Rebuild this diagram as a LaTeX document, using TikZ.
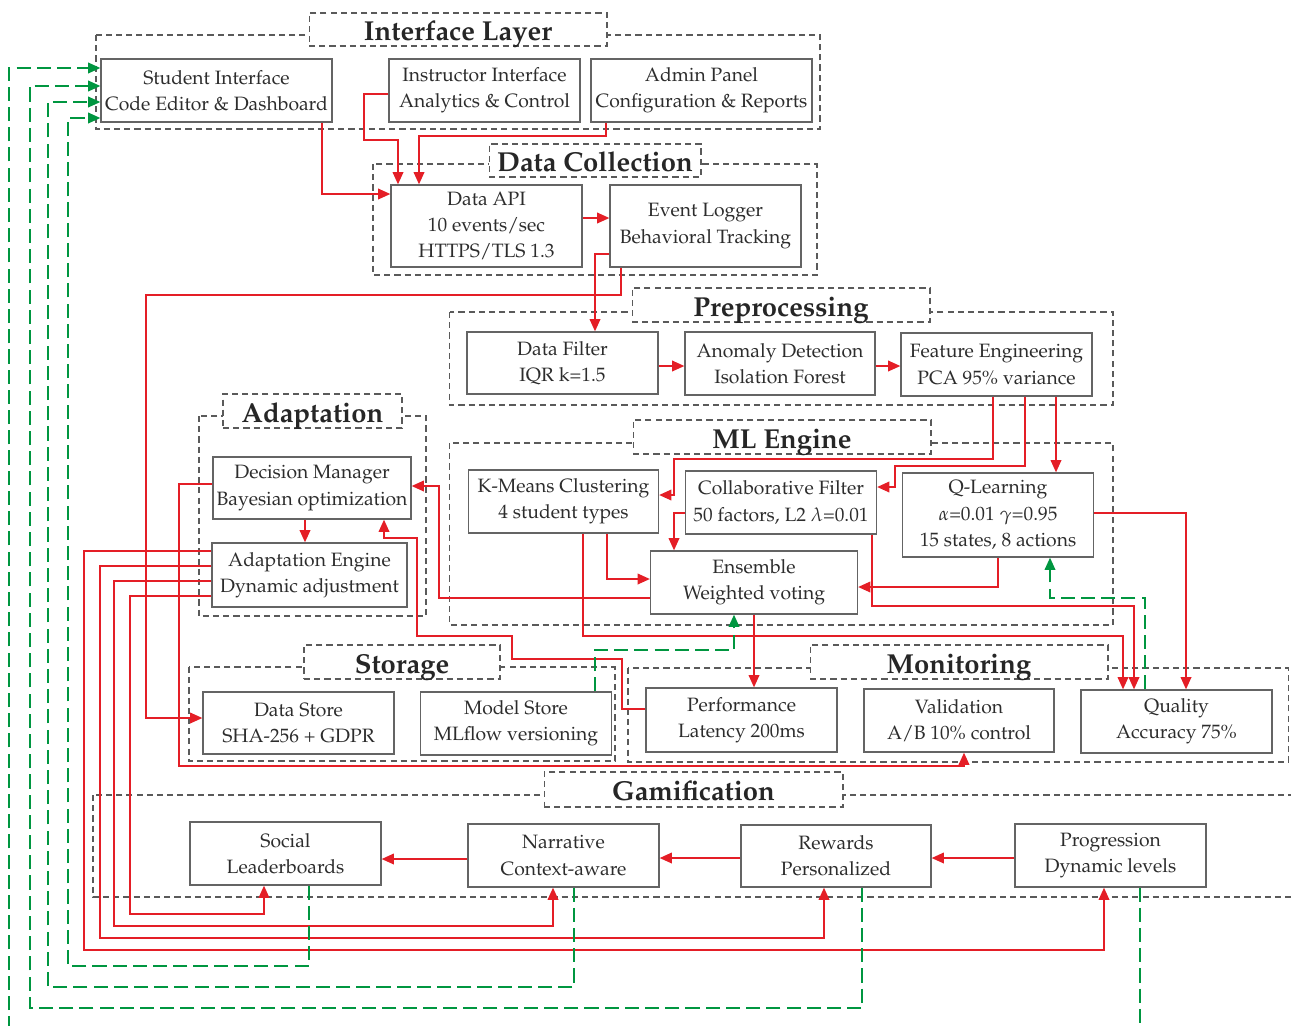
\documentclass[tikz,border=0pt]{standalone}
\usepackage[T1]{fontenc}
\usepackage{mathpazo}
\usetikzlibrary{arrows.meta}

\definecolor{flowred}{RGB}{228,30,38}
\definecolor{fbgreen}{RGB}{0,150,64}
\definecolor{boxgray}{RGB}{100,100,100}
\definecolor{dashgray}{RGB}{90,90,90}
\definecolor{txtgray}{RGB}{45,45,45}

\tikzset{
	blk/.style={draw=boxgray, line width=0.7pt, fill=white, text=txtgray, align=center,
		inner sep=0pt, font=\fontsize{11}{15}\selectfont},
	ttl/.style={draw=dashgray, line width=0.6pt, dash pattern=on 3.5pt off 2.3pt, fill=white,
		text=black!85, inner sep=0pt, text height=0.44cm, text depth=0cm,
		font=\fontsize{15.6}{18}\selectfont\bfseries},
	grp/.style={draw=dashgray, line width=0.6pt, dash pattern=on 3.5pt off 2.3pt},
	flow/.style={draw=flowred, line width=1.1pt, -{Triangle[length=7pt,width=6pt]}},
	fb/.style={draw=fbgreen, line width=1.1pt, dash pattern=on 8pt off 3.5pt,
		-{Triangle[length=7pt,width=6pt]}}
}

\begin{document}
\begin{tikzpicture}[x=0.02cm, y=-0.02cm]
	\useasboundingbox (0, 0) rectangle (1291, 1025);

	%% layer frames
	\draw[grp] (96, 35) rectangle (820, 129);
	\draw[grp] (373, 164) rectangle (817, 275);
	\draw[grp] (449.5, 312) rectangle (1113, 405);
	\draw[grp] (449.5, 443) rectangle (1113, 625);
	\draw[grp] (199, 416) rectangle (426, 616);
	\draw[grp] (189, 667) rectangle (615, 761);
	\draw[grp] (628, 668) rectangle (1288.5, 762);
	\draw[grp] (93, 795) rectangle (1310, 897);

	%% layer titles
	\node[ttl, minimum width=5.96cm, minimum height=0.66cm] (tint) at (458, 29.5) {Interface Layer};
	\node[ttl, minimum width=4.24cm, minimum height=0.66cm] (tcol) at (595, 160.5) {Data Collection};
	\node[ttl, minimum width=5.96cm, minimum height=0.68cm] (tpre) at (781, 305) {Preprocessing};
	\node[ttl, minimum width=5.96cm, minimum height=0.68cm] (tml) at (782, 437) {ML Engine};
	\node[ttl, minimum width=3.58cm, minimum height=0.68cm] (tada) at (312.5, 411) {Adaptation};
	\node[ttl, minimum width=3.92cm, minimum height=0.68cm] (tsto) at (402, 662) {Storage};
	\node[ttl, minimum width=5.96cm, minimum height=0.68cm] (tmon) at (959, 662) {Monitoring};
	\node[ttl, minimum width=5.98cm, minimum height=0.70cm] (tgam) at (693.5, 789.5) {Gamification};

	%% interface
	\node[blk, minimum width=4.62cm, minimum height=1.26cm] (student) at (216.5, 90.5) {Student Interface\\Code Editor \& Dashboard};
	\node[blk, minimum width=3.82cm, minimum height=1.26cm] (instructor) at (484.5, 90.5) {Instructor Interface\\Analytics \& Control};
	\node[blk, minimum width=4.42cm, minimum height=1.26cm] (admin) at (701.5, 90.5) {Admin Panel\\Configuration \& Reports};

	%% data collection
	\node[blk, minimum width=3.82cm, minimum height=1.64cm] (api) at (486.5, 226) {Data API\\10 events/sec\\HTTPS/TLS 1.3};
	\node[blk, minimum width=3.82cm, minimum height=1.64cm] (logger) at (705.5, 226) {Event Logger\\Behavioral Tracking};

	%% preprocessing
	\node[blk, minimum width=3.82cm, minimum height=1.24cm] (filter) at (562.5, 363) {Data Filter\\IQR k=1.5};
	\node[blk, minimum width=3.80cm, minimum height=1.26cm] (anomaly) at (780, 363.5) {Anomaly Detection\\Isolation Forest};
	\node[blk, minimum width=3.82cm, minimum height=1.26cm] (feature) at (996.5, 364.5) {Feature Engineering\\PCA 95\% variance};

	%% ml engine
	\node[blk, minimum width=3.80cm, minimum height=1.26cm] (kmeans) at (563.5, 501.5) {K-Means Clustering\\4 student types};
	\node[blk, minimum width=3.82cm, minimum height=1.26cm] (collab) at (781, 502.5) {Collaborative Filter\\50 factors, L2 $\lambda$=0.01};
	\node[blk, minimum width=3.82cm, minimum height=1.68cm] (qlearn) at (998, 515) {Q-Learning\\$\alpha$=0.01 $\gamma$=0.95\\15 states, 8 actions};
	\node[blk, minimum width=4.14cm, minimum height=1.26cm] (ensemble) at (754, 582.5) {Ensemble\\Weighted voting};

	%% adaptation
	\node[blk, minimum width=3.96cm, minimum height=1.24cm] (decision) at (312, 488) {Decision Manager\\Bayesian optimization};
	\node[blk, minimum width=3.90cm, minimum height=1.28cm] (adapteng) at (309.5, 575) {Adaptation Engine\\Dynamic adjustment};

	%% storage
	\node[blk, minimum width=3.82cm, minimum height=1.24cm] (datastore) at (298.5, 723) {Data Store\\SHA-256 + GDPR};
	\node[blk, minimum width=3.82cm, minimum height=1.26cm] (modelstore) at (516, 723.5) {Model Store\\MLflow versioning};

	%% monitoring
	\node[blk, minimum width=3.82cm, minimum height=1.28cm] (perf) at (741.5, 720) {Performance\\Latency 200ms};
	\node[blk, minimum width=3.80cm, minimum height=1.26cm] (valid) at (959, 720.5) {Validation\\A/B 10\% control};
	\node[blk, minimum width=3.82cm, minimum height=1.26cm] (quality) at (1176.5, 721.5) {Quality\\Accuracy 75\%};

	%% gamification
	\node[blk, minimum width=3.82cm, minimum height=1.26cm] (social) at (285.5, 853.5) {Social\\Leaderboards};
	\node[blk, minimum width=3.82cm, minimum height=1.26cm] (narrative) at (563.5, 855.5) {Narrative\\Context-aware};
	\node[blk, minimum width=3.80cm, minimum height=1.24cm] (rewards) at (836, 856) {Rewards\\Personalized};
	\node[blk, minimum width=3.82cm, minimum height=1.26cm] (progression) at (1110.5, 855.5) {Progression\\Dynamic levels};

	%% data flow
	\draw[flow] (student.south -| 322,0) |- (api.west |- 0,194);
	\draw[flow] (instructor.west |- 0,94) -| (364, 140) -| (api.north -| 398,0);
	\draw[flow] (admin.south -| 606,0) |- (419, 136) -- (api.north -| 419,0);
	\draw[flow] (api.east |- 0,218) -- (logger.west |- 0,218);
	\draw[flow] (logger.west |- 0,254) -| (filter.north -| 595,0);
	\draw[flow] (logger.south -| 621,0) |- (146, 295) |- (datastore.west |- 0,718);
	\draw[flow] (filter.east |- 0,366) -- (anomaly.west |- 0,366);
	\draw[flow] (anomaly.east |- 0,366) -- (feature.west |- 0,366);

	%% features into models
	\draw[flow] (feature.south -| 993,0) |- (674, 459) |- (kmeans.east |- 0,495);
	\draw[flow] (feature.south -| 1025,0) |- (895, 466) |- (collab.east |- 0,487);
	\draw[flow] (feature.south -| 1056,0) -- (qlearn.north -| 1056,0);

	%% model outputs
	\draw[flow] (kmeans.south -| 607,0) |- (ensemble.west |- 0,579);
	\draw[flow] (kmeans.south -| 583,0) |- (1123, 636) -- (quality.north -| 1123,0);
	\draw[flow] (collab.west |- 0,513) -| (ensemble.north -| 674,0);
	\draw[flow] (collab.south -| 872,0) |- (1134, 606) -- (quality.north -| 1134,0);
	\draw[flow] (qlearn.south) |- (ensemble.east |- 0,587);
	\draw[flow] (qlearn.east |- 0,513) -| (quality.north -| 1186,0);
	\draw[flow] (ensemble.south) -- (ensemble.south |- perf.north);
	\draw[flow] (ensemble.west |- 0,598) -| (439, 486) -- (decision.east |- 0,486);

	%% adaptation loop
	\draw[flow] (perf.west |- 0,709) -| (622, 659) -| (512, 636) -| (417, 538) -| (decision.south -| 384,0);
	\draw[flow] (decision.south -| 305,0) -- (adapteng.north -| 305,0);
	\draw[flow] (decision.west |- 0,484) -| (179, 766) -| (valid.south -| 964,0);

	%% adaptation into gamification
	\draw[flow] (adapteng.west |- 0,596) -| (130, 914) -| (social.south -| 264,0);
	\draw[flow] (adapteng.west |- 0,581) -| (114, 926) -| (narrative.south -| 553,0);
	\draw[flow] (adapteng.west |- 0,566) -| (100, 938) -| (rewards.south -| 824,0);
	\draw[flow] (adapteng.west |- 0,551) -| (84, 950) -| (progression.south -| 1104,0);
	\draw[flow] (narrative.west |- 0,859) -- (social.east |- 0,859);
	\draw[flow] (rewards.west |- 0,858) -- (narrative.east |- 0,858);
	\draw[flow] (progression.west |- 0,858) -- (rewards.east |- 0,858);

	%% feedback
	\draw[fb] (quality.north -| 1145,0) |- (1050, 598) -- (qlearn.south -| 1050,0);
	\draw[fb] (modelstore.north -| 595,0) |- (734, 650) -- (ensemble.south -| 734,0);
	\draw[fb] (social.south -| 309,0) |- (68, 966) |- (student.west |- 0,118);
	\draw[fb] (narrative.south -| 574,0) |- (48, 987) |- (student.west |- 0,102);
	\draw[fb] (rewards.south -| 862,0) |- (30, 1008) |- (student.west |- 0,86);
	\draw[fb] (progression.south -| 1140,0) |- (9, 1040) |- (student.west |- 0,68);
\end{tikzpicture}
\end{document}
